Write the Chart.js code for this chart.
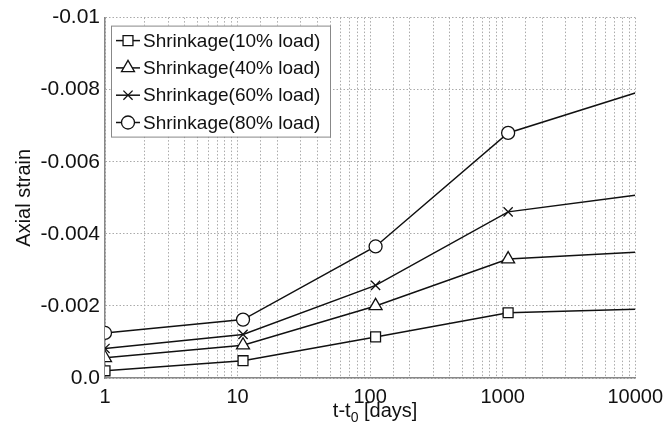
<!DOCTYPE html>
<html>
<head>
<meta charset="utf-8">
<script src="https://cdn.jsdelivr.net/npm/chart.js@4/dist/chart.umd.min.js"></script>
<style>
  html, body { margin: 0; padding: 0; background: #fff; }
  #wrap { width: 670px; height: 435px; }
</style>
</head>
<body>
<div id="wrap"><canvas id="strainChart" width="670" height="435"></canvas></div>
<script>
// t - t0 in days (last point has no marker)
const days = [1, 11, 110, 1100, 10000];
const load10 = [-0.00020, -0.00048, -0.00114, -0.00181, -0.00191];
const load40 = [-0.00056, -0.00091, -0.00200, -0.00330, -0.00349];
const load60 = [-0.00082, -0.00121, -0.00257, -0.00461, -0.00507];
const load80 = [-0.00125, -0.00162, -0.00365, -0.00680, -0.00791];
const seriesLabels = ['Shrinkage(10% load)', 'Shrinkage(40% load)', 'Shrinkage(60% load)', 'Shrinkage(80% load)'];
const yTickLabels = ['0.0', '-0.002', '-0.004', '-0.006', '-0.008', '-0.01'];
const xTickLabels = ['1', '10', '100', '1000', '10000'];

const FONT = '"Liberation Sans", Arial, sans-serif';
const markers = ['rect', 'triangle', 'crossRot', 'circle'];
const markerSize = [7, 7.5, 6.5, 6.5];

function makeSet(label, values, i) {
    return {
        label: label,
        data: days.map((d, k) => ({ x: d, y: values[k] })),
        borderColor: '#111',
        borderWidth: 1.5,
        backgroundColor: '#fff',
        pointStyle: markers[i],
        pointRadius: days.map((d, k) => k < 4 ? markerSize[i] : 0),
        pointBorderColor: '#111',
        pointBackgroundColor: '#fff',
        pointBorderWidth: 1.3,
        tension: 0,
        fill: false
    };
}

// draw a single marker for the legend
function drawMarker(ctx, style, x, y, r) {
    ctx.beginPath();
    if (style === 'rect') {
        const s = r * Math.SQRT1_2;
        ctx.rect(x - s, y - s, 2 * s, 2 * s);
    } else if (style === 'triangle') {
        ctx.moveTo(x, y - r);
        ctx.lineTo(x + r * 0.866, y + r * 0.5);
        ctx.lineTo(x - r * 0.866, y + r * 0.5);
        ctx.closePath();
    } else if (style === 'crossRot') {
        const s = r * Math.SQRT1_2;
        ctx.moveTo(x - s, y - s); ctx.lineTo(x + s, y + s);
        ctx.moveTo(x + s, y - s); ctx.lineTo(x - s, y + s);
    } else {
        ctx.arc(x, y, r, 0, Math.PI * 2);
    }
    if (style !== 'crossRot') { ctx.fillStyle = '#fff'; ctx.fill(); }
    ctx.stroke();
}

const insideLegend = {
    id: 'insideLegend',
    afterDatasetsDraw(chart) {
        const ctx = chart.ctx;
        const area = chart.chartArea;
        const bx = area.left + 6, by = area.top + 8, bw = 219, bh = 111;
        ctx.save();
        ctx.fillStyle = '#fff';
        ctx.fillRect(bx, by, bw, bh);
        ctx.strokeStyle = '#888';
        ctx.lineWidth = 1;
        ctx.strokeRect(bx + 0.5, by + 0.5, bw, bh);
        ctx.font = '19px ' + FONT;
        ctx.textBaseline = 'middle';
        seriesLabels.forEach((lab, i) => {
            const y = by + 15 + i * 27.3;
            ctx.strokeStyle = '#111';
            ctx.lineWidth = 1.5;
            ctx.beginPath();
            ctx.moveTo(bx + 5, y);
            ctx.lineTo(bx + 29, y);
            ctx.stroke();
            ctx.lineWidth = 1.3;
            drawMarker(ctx, markers[i], bx + 17, y, markerSize[i]);
            ctx.fillStyle = '#111';
            ctx.fillText(lab, bx + 32, y + 1);
        });
        ctx.restore();
    },
    afterDraw(chart) {
        // x axis title with subscript
        const ctx = chart.ctx;
        const area = chart.chartArea;
        const cx = (area.left + area.right) / 2 + 5;
        const y = 411;
        ctx.save();
        ctx.fillStyle = '#111';
        ctx.textBaseline = 'middle';
        ctx.font = '20px ' + FONT;
        const a = 't-t', b = '0', c = ' [days]';
        const wa = ctx.measureText(a).width, wc = ctx.measureText(c).width;
        ctx.font = '14px ' + FONT;
        const wb = ctx.measureText(b).width;
        let x = cx - (wa + wb + wc) / 2;
        ctx.font = '20px ' + FONT;
        ctx.fillText(a, x, y);
        ctx.font = '14px ' + FONT;
        ctx.fillText(b, x + wa, y + 7);
        ctx.font = '20px ' + FONT;
        ctx.fillText(c, x + wa + wb, y);
        ctx.restore();
    }
};

new Chart(document.getElementById('strainChart'), {
    type: 'line',
    data: {
        datasets: [
            makeSet(seriesLabels[0], load10, 0),
            makeSet(seriesLabels[1], load40, 1),
            makeSet(seriesLabels[2], load60, 2),
            makeSet(seriesLabels[3], load80, 3)
        ]
    },
    options: {
        responsive: false,
        animation: false,
        layout: { padding: { left: 0, top: 16, right: 32, bottom: 0 } },
        plugins: {
            legend: { display: false },
            tooltip: { enabled: false }
        },
        scales: {
            x: {
                type: 'logarithmic',
                min: 1,
                max: 10000,
                afterFit: s => { s.height = 57; },
                grid: { color: '#aaa', lineWidth: 1, drawTicks: false },
                border: { display: true, color: '#888', width: 1.5, dash: [1.5, 2] },
                ticks: {
                    autoSkip: false,
                    maxRotation: 0,
                    padding: 7,
                    color: '#111',
                    font: { family: FONT, size: 20 },
                    callback: v => {
                        const p = Math.log10(v);
                        return Math.abs(p - Math.round(p)) < 1e-9 ? xTickLabels[Math.round(p)] : '';
                    }
                }
            },
            y: {
                min: -0.01,
                max: 0,
                reverse: true,
                afterFit: s => { s.width = 105; },
                grid: { color: '#aaa', lineWidth: 1, drawTicks: false },
                border: { display: true, color: '#888', width: 1.5, dash: [1.5, 2] },
                ticks: {
                    stepSize: 0.002,
                    padding: 5,
                    color: '#111',
                    font: { family: FONT, size: 21 },
                    callback: v => yTickLabels[Math.round(-v / 0.002)]
                },
                title: {
                    display: true,
                    text: 'Axial strain',
                    color: '#111',
                    font: { family: FONT, size: 20 },
                    padding: { top: 12, bottom: 0 }
                }
            }
        }
    },
    plugins: [insideLegend]
});
</script>
</body>
</html>
